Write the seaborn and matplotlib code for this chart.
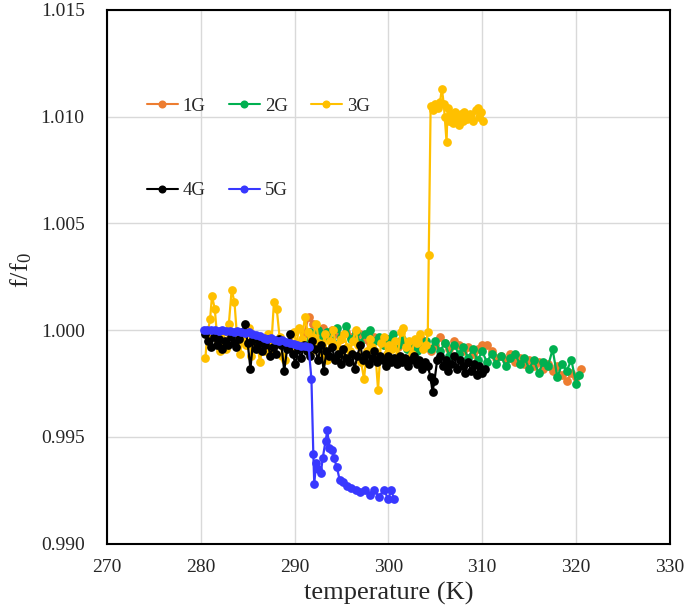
import matplotlib
matplotlib.use("Agg")
import matplotlib.pyplot as plt
import seaborn as sns
import pandas as pd
from matplotlib.lines import Line2D
from matplotlib.ticker import FormatStrFormatter

# =========================
# 1. 数据
# =========================
temp_1g = [291.0, 291.5, 292.0, 292.5, 293.0, 293.5, 294.0, 294.5, 295.0, 295.5,
           296.0, 296.5, 297.0, 297.5, 298.0, 298.5, 299.0, 299.5, 300.0, 300.5,
           301.0, 301.5, 302.0, 302.5, 303.0, 303.5, 304.0, 304.5, 305.0, 305.5,
           306.0, 306.5, 307.0, 307.5, 308.0, 308.5, 309.0, 309.5, 310.0, 310.5,
           311.0, 311.5, 312.0, 312.5, 313.0, 313.5, 314.0, 314.5, 315.0, 315.5,
           316.0, 316.5, 317.0, 317.5, 318.0, 318.5, 319.0, 319.5, 320.0, 320.5]
f_1g = [0.9998, 1.0006, 1.0003, 0.9999, 1.0001, 0.9997, 1.0000, 0.9998, 0.9996, 0.9999,
        0.9997, 0.9995, 0.9998, 0.9996, 0.9994, 0.9997, 0.9995, 0.9993, 0.9996, 0.9994,
        0.9992, 0.9995, 0.9993, 0.9991, 0.9994, 0.9996, 0.9992, 0.9990, 0.9993, 0.9997,
        0.9994, 0.9991, 0.9995, 0.9993, 0.9990, 0.9992, 0.9989, 0.9991, 0.9993, 0.9993,
        0.9990, 0.9987, 0.9988, 0.9986, 0.9989, 0.9985, 0.9987, 0.9984, 0.9986, 0.9983,
        0.9985, 0.9982, 0.9984, 0.9981, 0.9983, 0.9979, 0.9976, 0.9980, 0.9978, 0.9982]

temp_2g = [291.2, 291.6, 292.0, 292.5, 293.0, 293.5, 294.0, 294.5, 295.0, 295.5,
           296.0, 296.5, 297.0, 297.5, 298.0, 298.5, 299.0, 299.5, 300.0, 300.5,
           301.0, 301.5, 302.0, 302.5, 303.0, 303.5, 304.0, 304.5, 305.0, 305.5,
           306.0, 306.5, 307.0, 307.5, 308.0, 308.5, 309.0, 309.5, 310.0, 310.5,
           311.0, 311.5, 312.0, 312.5, 313.0, 313.5, 314.0, 314.5, 315.0, 315.5,
           316.0, 316.5, 317.0, 317.5, 318.0, 318.5, 319.0, 319.5, 320.0, 320.3]
f_2g = [0.9992, 0.9999, 0.9996, 1.0000, 0.9997, 0.9999, 0.9995, 1.0001, 0.9997, 1.0002,
        0.9996, 0.9999, 0.9994, 0.9998, 1.0000, 0.9995, 0.9997, 0.9993, 0.9996, 0.9998,
        0.9993, 0.9996, 0.9991, 0.9994, 0.9990, 0.9993, 0.9995, 0.9991, 0.9995, 0.9990,
        0.9994, 0.9988, 0.9993, 0.9989, 0.9992, 0.9987, 0.9991, 0.9986, 0.9990, 0.9985,
        0.9989, 0.9984, 0.9988, 0.9983, 0.9987, 0.9989, 0.9984, 0.9987, 0.9982, 0.9986,
        0.9980, 0.9985, 0.9983, 0.9991, 0.9978, 0.9984, 0.9981, 0.9986, 0.9975, 0.9979]

temp_3g = [280.5, 280.7, 281.0, 281.2, 281.5, 281.8, 282.1, 282.4, 282.7, 283.0,
           283.3, 283.6, 283.9, 284.2, 284.5, 284.8, 285.1, 285.4, 285.7, 286.0,
           286.3, 286.6, 286.9, 287.2, 287.5, 287.8, 288.1, 288.4, 288.7, 289.0,
           289.3, 289.6, 289.9, 290.2, 290.5, 290.8, 291.1, 291.4, 291.7, 292.0,
           292.3, 292.6, 292.9, 293.2, 293.5, 293.8, 294.1, 294.4, 294.7, 295.0,
           295.3, 295.6, 295.9, 296.2, 296.5, 296.8, 297.1, 297.4, 297.7, 298.0,
           298.3, 298.6, 298.9, 299.2, 299.5, 299.8, 300.1, 300.4, 300.7, 301.0,
           301.3, 301.6, 301.9, 302.2, 302.5, 302.8, 303.1, 303.4, 303.7, 304.0,
           304.2, 304.3, 304.5, 304.8, 305.0, 305.3, 305.5, 305.7, 305.9, 306.0,
           306.2, 306.3, 306.5, 306.7, 306.9, 307.1, 307.3, 307.5, 307.7, 307.9,
           308.1, 308.4, 308.7, 309.0, 309.3, 309.5, 309.7, 309.9, 310.1]
f_3g = [0.9987, 0.9998, 1.0005, 1.0016, 1.0010, 0.9994, 0.9990, 0.9999, 0.9991, 1.0003,
        1.0019, 1.0013, 0.9995, 0.9989, 0.9997, 0.9993, 1.0001, 0.9988, 0.9994, 0.9996,
        0.9985, 0.9992, 0.9990, 0.9998, 0.9991, 1.0013, 1.0010, 0.9997, 0.9988, 0.9986,
        0.9994, 0.9992, 0.9999, 0.9994, 1.0001, 0.9996, 1.0006, 0.9999, 0.9990, 0.9997,
        1.0003, 0.9994, 0.9989, 0.9998, 0.9986, 0.9995, 1.0000, 0.9993, 0.9989, 0.9996,
        0.9998, 0.9992, 0.9990, 0.9995, 1.0000, 0.9993, 0.9985, 0.9977, 0.9990, 0.9996,
        0.9992, 0.9990, 0.9972, 0.9994, 0.9997, 0.9989, 0.9993, 0.9991, 0.9995, 0.9988,
        0.9999, 1.0001, 0.9992, 0.9995, 0.9989, 0.9996, 0.9994, 0.9998, 0.9991, 0.9993,
        0.9999, 1.0035, 1.0105, 1.0103, 1.0106, 1.0104, 1.0107, 1.0113, 1.0106, 1.0100,
        1.0088, 1.0104, 1.0098, 1.0101, 1.0097, 1.0102, 1.0099, 1.0096, 1.0101, 1.0098,
        1.0102, 1.0099, 1.0101, 1.0098, 1.0103, 1.0104, 1.0100, 1.0102, 1.0098]

temp_4g = [280.5, 280.8, 281.1, 281.4, 281.7, 282.0, 282.3, 282.6, 282.9, 283.2,
           283.5, 283.8, 284.1, 284.4, 284.7, 285.0, 285.3, 285.6, 285.9, 286.2,
           286.5, 286.8, 287.1, 287.4, 287.7, 288.0, 288.3, 288.6, 288.9, 289.2,
           289.5, 289.8, 290.1, 290.4, 290.7, 291.0, 291.3, 291.6, 291.9, 292.2,
           292.5, 292.8, 293.1, 293.4, 293.7, 294.0, 294.3, 294.6, 294.9, 295.2,
           295.5, 295.8, 296.1, 296.4, 296.7, 297.0, 297.3, 297.6, 297.9, 298.2,
           298.5, 298.8, 299.1, 299.4, 299.7, 300.0, 300.3, 300.6, 300.9, 301.2,
           301.5, 301.8, 302.1, 302.4, 302.7, 303.0, 303.3, 303.6, 303.9, 304.2,
           304.5, 304.7, 304.9, 305.2, 305.5, 305.8, 306.1, 306.4, 306.7, 307.0,
           307.3, 307.6, 307.9, 308.2, 308.5, 308.8, 309.1, 309.4, 309.7, 310.0, 310.3]
f_4g = [0.9998, 0.9995, 0.9992, 0.9997, 0.9993, 0.9996, 0.9991, 0.9995, 0.9993, 0.9997,
        0.9994, 0.9992, 0.9996, 0.9999, 1.0003, 0.9994, 0.9982, 0.9996, 0.9991, 0.9994,
        0.9990, 0.9993, 0.9996, 0.9988, 0.9992, 0.9989, 0.9996, 0.9993, 0.9981, 0.9991,
        0.9998, 0.9989, 0.9984, 0.9991, 0.9987, 0.9993, 0.9990, 0.9988, 0.9995, 0.9991,
        0.9986, 0.9993, 0.9981, 0.9990, 0.9988, 0.9992, 0.9986, 0.9989, 0.9984, 0.9991,
        0.9987, 0.9985, 0.9989, 0.9982, 0.9988, 0.9993, 0.9986, 0.9989, 0.9984, 0.9987,
        0.9990, 0.9985, 0.9988, 0.9986, 0.9983, 0.9988, 0.9985, 0.9987, 0.9984, 0.9988,
        0.9985, 0.9987, 0.9983, 0.9986, 0.9988, 0.9984, 0.9986, 0.9982, 0.9985, 0.9983,
        0.9978, 0.9971, 0.9976, 0.9986, 0.9988, 0.9983, 0.9986, 0.9981, 0.9984, 0.9988,
        0.9982, 0.9986, 0.9983, 0.9980, 0.9985, 0.9981, 0.9984, 0.9979, 0.9983, 0.9980, 0.9982]

temp_5g = [280.3, 280.7, 281.1, 281.5, 281.9, 282.3, 282.7, 283.1, 283.5, 283.9,
           284.3, 284.7, 285.1, 285.5, 285.9, 286.3, 286.7, 287.1, 287.5, 287.9,
           288.3, 288.7, 289.1, 289.5, 289.9, 290.3, 290.7, 291.1, 291.5, 291.8,
           292.0, 292.1, 292.3, 292.5, 292.8, 293.0, 293.3, 293.5, 293.7, 294.0,
           294.2, 294.5, 294.8, 295.2, 295.6, 296.0, 296.5, 297.0, 297.5, 298.0,
           298.5, 299.0, 299.5, 300.0, 300.3, 300.6]
f_5g = [1.0000, 1.0000, 1.0000, 1.0000, 0.99998, 1.0000, 0.99995, 0.99998, 0.99992, 0.99995,
        0.99993, 0.99985, 0.99990, 0.99983, 0.99975, 0.99972, 0.99965, 0.99960, 0.99962, 0.99955,
        0.99950, 0.99952, 0.99945, 0.99940, 0.99935, 0.99932, 0.99928, 0.99925, 0.99920, 0.9977,
        0.9942, 0.9928, 0.9938, 0.9935, 0.9933, 0.9940, 0.9948, 0.9953, 0.9945, 0.9944,
        0.9940, 0.9936, 0.9930, 0.9929, 0.9927, 0.9926, 0.9925, 0.9924, 0.9925, 0.9923,
        0.9925, 0.9922, 0.9925, 0.9921, 0.9925, 0.9921]

labels = ["1G", "2G", "3G", "4G", "5G"]
colors = ["#ED7D31", "#00B050", "#FFC000", "#000000", "#3838FF"]
temps = [temp_1g, temp_2g, temp_3g, temp_4g, temp_5g]
values = [f_1g, f_2g, f_3g, f_4g, f_5g]

x_ticks = [270, 280, 290, 300, 310, 320, 330]
y_ticks = [0.990, 0.995, 1.000, 1.005, 1.010, 1.015]

# =========================
# 2. 样式
# =========================
sns.set_style("white")
plt.rcParams["font.family"] = ["Liberation Serif", "DejaVu Serif"]
plt.rcParams["mathtext.default"] = "regular"

fig = plt.figure(figsize=(6.85, 6.15), dpi=100)
ax = fig.add_axes([0.156, 0.116, 0.822, 0.868])

# =========================
# 3. 绘图
# =========================
for t, v, lab, c in zip(temps, values, labels, colors):
    df = pd.DataFrame({"temperature": t, "f": v})
    sns.lineplot(data=df, x="temperature", y="f", ax=ax, color=c, marker="o",
                 markersize=6.3, markeredgewidth=0, linewidth=1.6,
                 estimator=None, sort=False, legend=False)

ax.set_xlim(270, 330)
ax.set_ylim(0.990, 1.015)
ax.set_xticks(x_ticks)
ax.set_yticks(y_ticks)
ax.yaxis.set_major_formatter(FormatStrFormatter("%.3f"))
ax.grid(True, color="#D9D9D9", linewidth=1.0)
ax.set_axisbelow(True)
for s in ax.spines.values():
    s.set_color("black")
    s.set_linewidth(1.5)
ax.tick_params(axis="both", length=0, labelsize=14, colors="#262626")
ax.tick_params(axis="y", pad=16)
ax.tick_params(axis="x", pad=11)

ax.set_xlabel("temperature (K)", fontsize=19, labelpad=4)
ax.set_ylabel("f/f$_0$", fontsize=19)
ax.yaxis.set_label_coords(-0.13, 0.513)

# 图例：两行，行距较大
handles = [Line2D([0], [0], color=c, marker="o", markersize=5.8, markeredgewidth=0,
                  linewidth=1.5) for c in colors]
order = [0, 3, 1, 4, 2]
ax.legend([handles[i] for i in order], [labels[i] for i in order], ncol=3,
          loc="upper left", bbox_to_anchor=(0.071, 0.836), frameon=False,
          fontsize=13.5, labelspacing=3.6, handlelength=1.65, handletextpad=0.27,
          columnspacing=1.23, borderaxespad=0, borderpad=0)

plt.savefig("out.png", dpi=100)
plt.close()
